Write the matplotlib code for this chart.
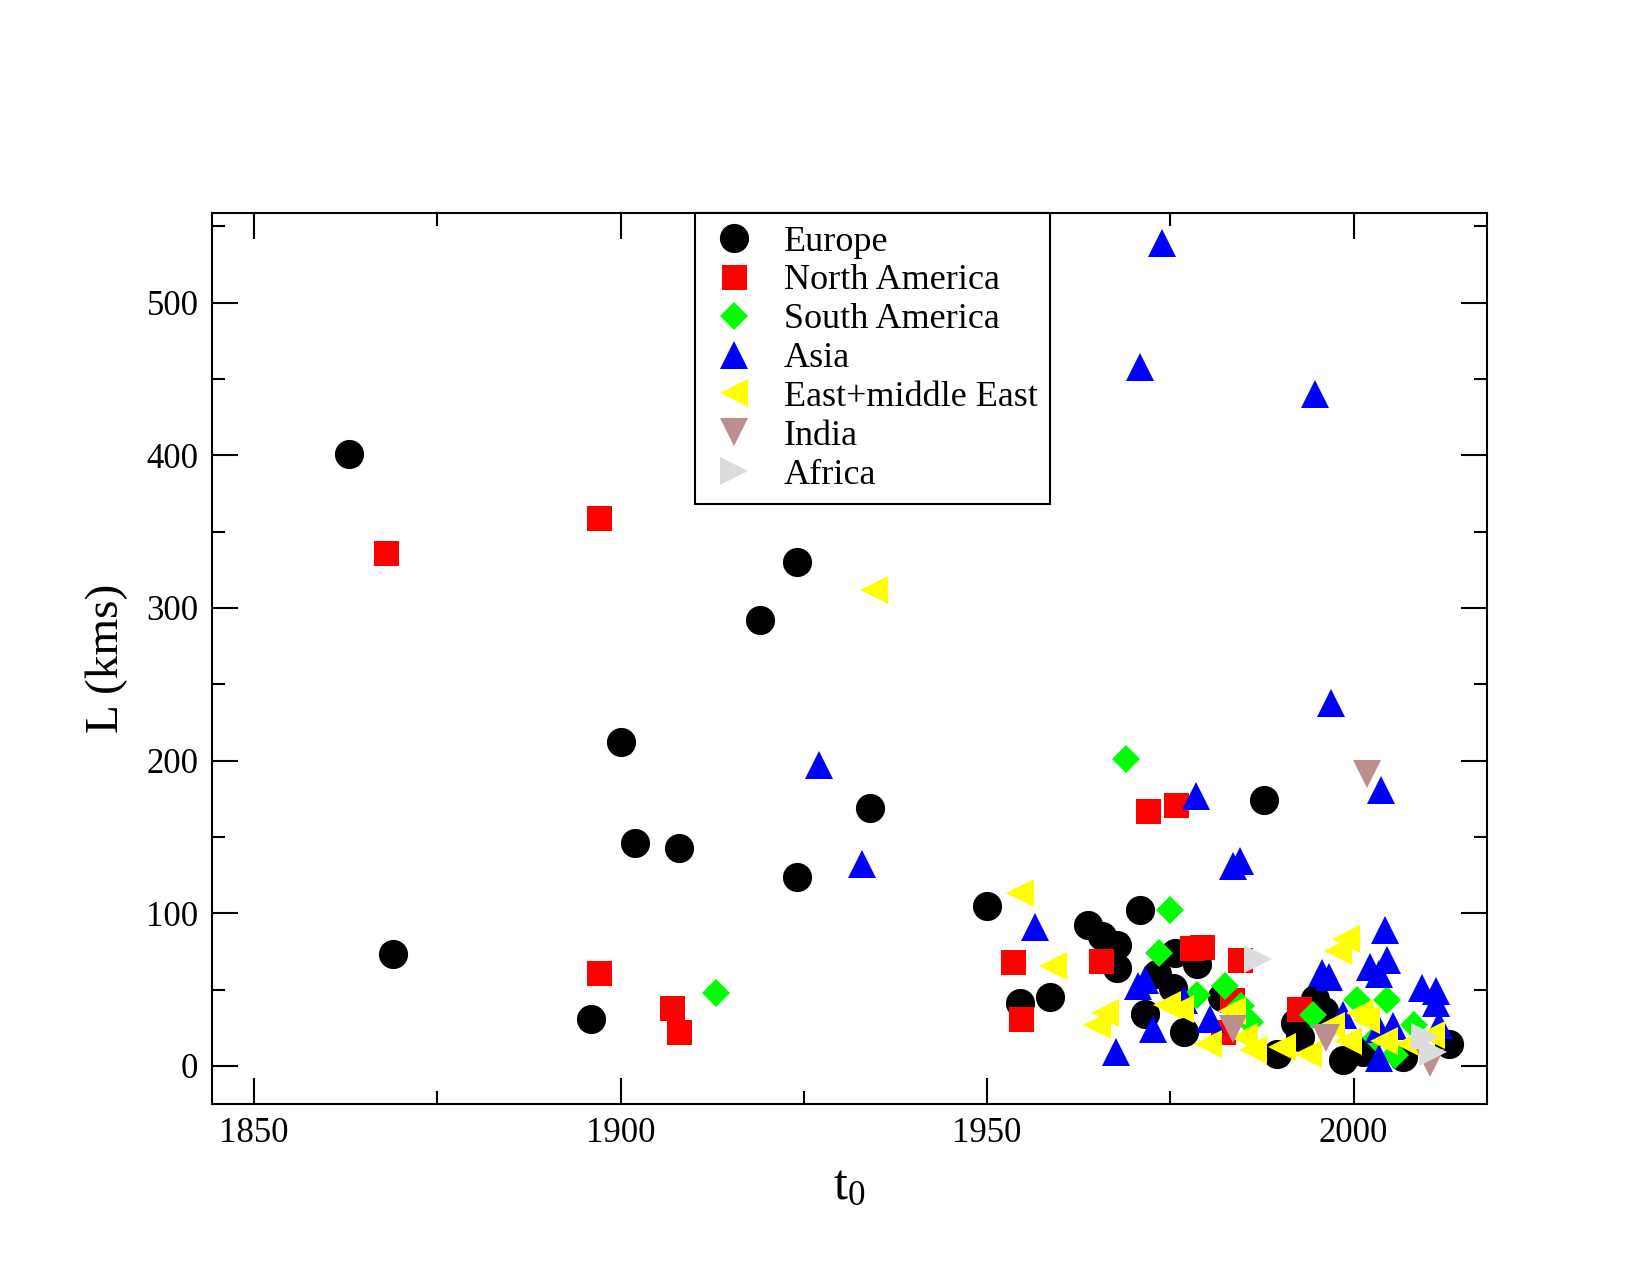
import matplotlib
matplotlib.use("Agg")
import matplotlib.pyplot as plt
from matplotlib.ticker import MultipleLocator

plt.rcParams['font.family'] = ['Liberation Serif', 'DejaVu Serif']
plt.rcParams['mathtext.fontset'] = 'custom'
plt.rcParams['mathtext.rm'] = 'Liberation Serif'
plt.rcParams['mathtext.it'] = 'Liberation Serif'

# data (year t0, length L in km)
europe_t = [1863, 1869, 1896, 1900, 1902, 1908, 1919, 1924, 1924, 1934,
            1950, 1954.5, 1958.6, 1963.7, 1965.7, 1967.7, 1967.7, 1970.8, 1971.6, 1973.2,
            1975.4, 1975.7, 1976.8, 1978.7, 1982, 1987.8, 1989.6, 1992, 1992.7, 1994.7,
            1996, 1998.6, 2000.9, 2001.3, 2006.8, 2013]
europe_L = [401, 73, 31, 212, 146, 143, 292, 330, 124, 169,
            105, 41, 45, 92, 85, 79, 64, 102, 34, 60,
            51, 74, 22, 67, 45, 174, 8, 28, 19, 44,
            36, 4, 10, 9, 6, 14]

namerica_t = [1868, 1897, 1897, 1907, 1908, 1953.6, 1954.6, 1965.5, 1972, 1975.8,
              1978, 1979.3, 1984.5, 1983.4, 1982.2, 1992.5]
namerica_L = [336, 359, 61, 38, 22, 68, 31, 69, 167, 171,
              77, 78, 69.5, 43, 22, 37]

samerica_t = [1913, 1969, 1974.9, 1973.5, 1978.6, 1982.5, 1984.7, 1985.9, 1994.5, 2000.4,
              2004.5, 2005.6, 2008.3, 2003]
samerica_L = [48, 201, 102, 74, 46.5, 52, 39, 29, 33, 43,
              43, 7, 27, 18]

asia_t = [1927, 1933, 1956.6, 1967.6, 1970.6, 1971.6, 1970.9, 1972.6, 1973.9, 1976.8,
          1978.5, 1980.4, 1983.6, 1984.5, 1994.8, 1995.7, 1996.6, 1996.9, 1998.5, 2002.3,
          2003.4, 2003.5, 2003.5, 2003.8, 2004.3, 2004.5, 2005.4, 2009.3, 2011.3, 2011.3,
          2011.7]
asia_L = [197, 132, 91, 9, 52, 56, 458, 24, 539, 43,
          177, 31, 131, 134, 440, 61, 58, 238, 33, 65,
          60, 24, 5, 181, 89, 69.5, 26, 51, 49, 41,
          27]

east_t = [1934.6, 1954.5, 1959, 1966.1, 1965, 1974.5, 1976.3, 1980.2, 1983.4, 1985,
          1986.3, 1990.2, 1993.8, 1997.9, 1999, 1999.3, 2000.9, 2004.2, 2007.5, 2010.5,
          1996.9, 2001.7]
east_L = [312, 113, 65.5, 34.5, 27, 40, 37, 14, 36, 19,
          10.5, 12.6, 8, 75, 83, 16.5, 34.5, 16, 14, 20,
          26, 30]

india_t = [1983.6, 1996.3, 2001.8, 2010.4]
india_L = [24, 18, 191, 2]

africa_t = [1987, 2009.8, 2010.9]
africa_L = [70, 19, 9]

series = [
    ("Europe", europe_t, europe_L, 'o', '#000000', 21),
    ("North America", namerica_t, namerica_L, 's', '#ff0000', 18),
    ("South America", samerica_t, samerica_L, 'D', '#00ff00', 14.5),
    ("Asia", asia_t, asia_L, '^', '#0000ff', 20),
    ("East+middle East", east_t, east_L, '<', '#ffff00', 20),
    ("India", india_t, india_L, 'v', '#bc8f8f', 20),
    ("Africa", africa_t, africa_L, '>', '#dcdcdc', 20),
]

fig = plt.figure(figsize=(16.5, 12.75), dpi=100)
ax = fig.add_axes([0.1287, 0.1341, 0.9012 - 0.1287, 0.8332 - 0.1341])

for name, t, L, m, c, ms in series:
    ax.plot(t, L, linestyle='none', marker=m, markersize=ms, color=c,
            markeredgewidth=0, label=name)

ax.set_xlim(1844.3, 2018.2)
ax.set_ylim(-25, 559)
ax.xaxis.set_major_locator(MultipleLocator(50))
ax.xaxis.set_minor_locator(MultipleLocator(25))
ax.yaxis.set_major_locator(MultipleLocator(100))
ax.yaxis.set_minor_locator(MultipleLocator(50))
ax.tick_params(which='both', direction='in', top=True, right=True, width=1.5,
               labelsize=25)
ax.tick_params(which='major', length=18.5)
ax.tick_params(which='minor', length=9.5)
ax.tick_params(axis='y', pad=10)
ax.tick_params(axis='x', pad=9)
for s in ax.spines.values():
    s.set_linewidth(1.5)

ax.set_xlabel(r'$\mathregular{t_0}$', fontsize=36, labelpad=10)
ax.set_ylabel('L (kms)', fontsize=34, labelpad=13)

leg = ax.legend(loc='upper left', bbox_to_anchor=(0.379, 1.0), borderaxespad=0,
                fontsize=26, frameon=True, fancybox=False, numpoints=1,
                handlelength=1.45, handletextpad=0.65, labelspacing=0.155,
                borderpad=0.35, framealpha=1)
leg.get_frame().set_edgecolor('black')
leg.get_frame().set_linewidth(1.5)

fig.savefig('out.png', dpi=100)
